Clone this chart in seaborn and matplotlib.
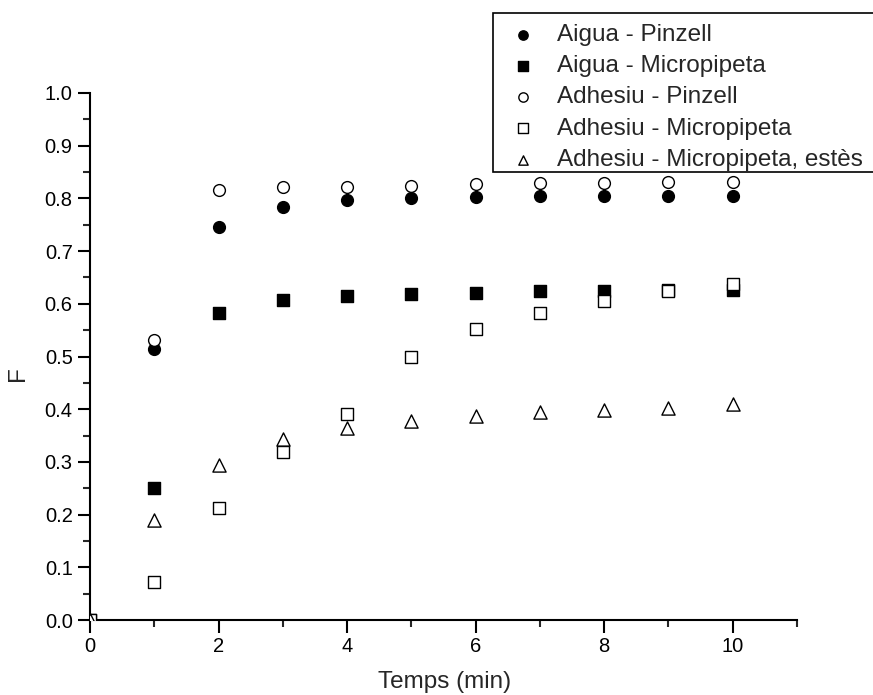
import numpy as np
import pandas as pd
import matplotlib
matplotlib.use("Agg")
import matplotlib.pyplot as plt
from matplotlib.patches import Rectangle
from matplotlib.ticker import MultipleLocator, FormatStrFormatter
import seaborn as sns

# Data
temps = [0, 1, 2, 3, 4, 5, 6, 7, 8, 9, 10]
aigua_pinzell = [0, 0.515, 0.745, 0.783, 0.797, 0.800, 0.803, 0.804, 0.804, 0.804, 0.804]
aigua_micropipeta = [0, 0.250, 0.583, 0.607, 0.615, 0.619, 0.621, 0.624, 0.625, 0.626, 0.627]
adhesiu_pinzell = [0, 0.532, 0.815, 0.822, 0.822, 0.824, 0.827, 0.829, 0.830, 0.831, 0.832]
adhesiu_micropipeta = [0, 0.073, 0.212, 0.318, 0.390, 0.500, 0.553, 0.582, 0.606, 0.625, 0.638]
adhesiu_estes = [0, 0.190, 0.294, 0.344, 0.365, 0.378, 0.387, 0.394, 0.399, 0.403, 0.410]

series = [
    ("Aigua - Pinzell", aigua_pinzell, "o", "black", 72),
    ("Aigua - Micropipeta", aigua_micropipeta, "s", "black", 72),
    ("Adhesiu - Pinzell", adhesiu_pinzell, "o", "white", 72),
    ("Adhesiu - Micropipeta", adhesiu_micropipeta, "s", "white", 72),
    ("Adhesiu - Micropipeta, estès", adhesiu_estes, "^", "white", 90),
]

sns.set_style("ticks")
plt.rcParams["font.family"] = ["Liberation Sans", "DejaVu Sans"]

fig = plt.figure(figsize=(8.73, 6.95), dpi=100)
ax = fig.add_axes([0.1031, 0.1079, 0.8099, 0.7583])

for label, vals, marker, face, size in series:
    df = pd.DataFrame({"Temps": temps, "F": vals})
    sns.scatterplot(data=df, x="Temps", y="F", marker=marker, s=size,
                    facecolor=face, edgecolor="black", linewidth=1.0,
                    label=label, ax=ax, legend=False, zorder=3)

ax.set_xlim(0, 11)
ax.set_ylim(0, 1.0)
ax.xaxis.set_major_locator(MultipleLocator(2))
ax.xaxis.set_minor_locator(MultipleLocator(1))
ax.yaxis.set_major_locator(MultipleLocator(0.1))
ax.yaxis.set_minor_locator(MultipleLocator(0.05))
ax.yaxis.set_major_formatter(FormatStrFormatter("%.1f"))
ax.tick_params(which="major", direction="out", length=9, width=1.5, labelsize=14.5, colors="black")
ax.tick_params(which="minor", direction="out", length=5, width=1.5)
for side in ["left", "bottom"]:
    ax.spines[side].set_linewidth(1.5)
    ax.spines[side].set_color("black")
sns.despine(ax=ax)

ax.set_xlabel("Temps (min)", fontsize=17.5)
ax.set_ylabel("F", fontsize=17.5)
ax.xaxis.set_label_coords(0.502, -0.097)
ax.yaxis.set_label_coords(-0.086, 0.467)

# legend box (runs off the right edge, like the original)
box = Rectangle((0.5647, 0.7525), 0.5, 0.2288, transform=fig.transFigure,
                facecolor="white", edgecolor="black", linewidth=1.2, zorder=4)
fig.patches.append(box)

handles = ax.collections
leg = fig.legend(handles=handles, labels=[s[0] for s in series],
                 loc="upper left", bbox_to_anchor=(0.5647, 0.9813),
                 borderaxespad=0, fontsize=17.5, frameon=False,
                 labelspacing=0.38, handletextpad=0.6,
                 borderpad=0.45, handlelength=1.6)
leg.set_zorder(5)
for h in leg.legend_handles:
    h.set_sizes([45])

fig.savefig("out.png", dpi=100)
